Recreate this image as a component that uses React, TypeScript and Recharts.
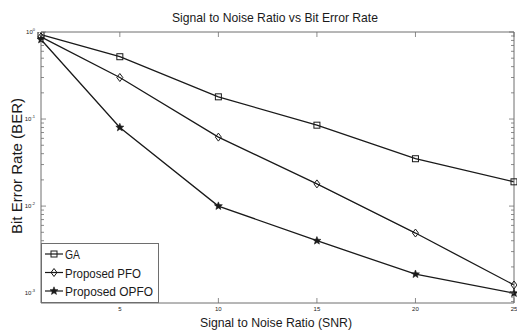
import React from 'react';
import { LineChart, Line, XAxis, YAxis } from 'recharts';

// SNR values and BER per method
const snr = [1, 5, 10, 15, 20, 25];
const gaBer = [0.93, 0.52, 0.18, 0.085, 0.035, 0.019];
const pfoBer = [0.88, 0.3, 0.062, 0.018, 0.0049, 0.00124];
const opfoBer = [0.82, 0.08, 0.01, 0.004, 0.00165, 0.001];

const xTicks = [5, 10, 15, 20, 25];
const decades = [1, 0.1, 0.01, 0.001];
const minorTicks = [0.2, 0.3, 0.4, 0.5, 0.6, 0.7, 0.8, 0.9, 0.02, 0.03, 0.04, 0.05, 0.06, 0.07, 0.08, 0.09, 0.002, 0.003, 0.004, 0.005, 0.006, 0.007, 0.008, 0.009, 0.0008, 0.0009];

const data = snr.map((s, i) => ({ snr: s, ga: gaBer[i], pfo: pfoBer[i], opfo: opfoBer[i] }));

const W = 517;
const H = 331;
const LEFT = 41;
const RIGHT = 514;
const TOP = 32;
const BOTTOM = 303;
const INK = '#1a1a1a';
const FRAME = '#6e6e6e';
const FONT = '"Liberation Sans", Arial, sans-serif';

const Square = ({ cx, cy }: any) => (
  <rect x={cx - 3} y={cy - 3} width={6} height={6} fill="none" stroke={INK} strokeWidth={1} />
);
const Diamond = ({ cx, cy }: any) => (
  <path d={`M${cx},${cy - 4} L${cx + 3},${cy} L${cx},${cy + 4} L${cx - 3},${cy} Z`} fill="none" stroke={INK} strokeWidth={1} />
);
const Star = ({ cx, cy }: any) => {
  const pts: string[] = [];
  for (let k = 0; k < 10; k++) {
    const r = k % 2 === 0 ? 4.2 : 1.8;
    const a = -Math.PI / 2 + (k * Math.PI) / 5;
    pts.push(`${cx + r * Math.cos(a)},${cy + r * Math.sin(a)}`);
  }
  return <polygon points={pts.join(' ')} fill={INK} stroke={INK} strokeWidth={0.6} />;
};

const dotOf = (Shape: any, name: string) => (p: any) => (
  <g key={`${name}-${p.index}`}><Shape cx={p.cx} cy={p.cy} /></g>
);

const isDecade = (v: number) => decades.some(d => Math.abs(d - v) < 1e-9);

const LeftTick = ({ y, payload }: any) => {
  const major = isDecade(payload.value);
  const exp = Math.round(Math.log10(payload.value));
  return (
    <g>
      <line x1={LEFT} x2={LEFT + (major ? 5 : 3)} y1={y} y2={y} stroke={FRAME} strokeWidth={0.8} />
      {major && (
        <text x={LEFT - 6} y={y + 2} textAnchor="end" fontSize={6} fill={INK} fontFamily={FONT}>
          10<tspan dy={-3} fontSize={4}>{exp}</tspan>
        </text>
      )}
    </g>
  );
};

const RightTick = ({ y, payload }: any) => {
  const major = isDecade(payload.value);
  return <line x1={RIGHT} x2={RIGHT - (major ? 5 : 3)} y1={y} y2={y} stroke={FRAME} strokeWidth={0.8} />;
};

const BottomTick = ({ x, payload }: any) => (
  <g>
    <line x1={x} x2={x} y1={BOTTOM} y2={BOTTOM - 5} stroke={FRAME} strokeWidth={0.8} />
    <text x={x} y={BOTTOM + 8} textAnchor="middle" fontSize={6} fill={INK} fontFamily={FONT}>{payload.value}</text>
  </g>
);

const TopTick = ({ x }: any) => (
  <line x1={x} x2={x} y1={TOP} y2={TOP + 5} stroke={FRAME} strokeWidth={0.8} />
);

const legendItems = [
  { label: 'GA', Shape: Square, len: 15 },
  { label: 'Proposed PFO', Shape: Diamond, len: 76 },
  { label: 'Proposed OPFO', Shape: Star, len: 88 },
];

// legend drawn as a small svg box in the lower-left corner of the plot
const LegendBox = () => (
  <svg style={{ position: 'absolute', left: LEFT, top: 243, overflow: 'visible' }} width={150} height={70}>
    <rect x={0.5} y={0.5} width={117} height={59} fill="#fff" stroke={FRAME} strokeWidth={1} />
    {legendItems.map((it, i) => {
      const cy = 11 + i * 18.5;
      return (
        <g key={it.label}>
          <line x1={4} x2={22} y1={cy} y2={cy} stroke={INK} strokeWidth={1.2} />
          <it.Shape cx={13} cy={cy} />
          <text x={24} y={cy + 5} fontSize={13} fill={INK} fontFamily={FONT} textLength={it.len} lengthAdjust="spacingAndGlyphs">
            {it.label}
          </text>
        </g>
      );
    })}
  </svg>
);

export default function App() {
  return (
    <div style={{ position: 'absolute', left: 0, top: 0, width: W, height: H, background: '#fff' }}>
      <LineChart width={W} height={H} data={data} margin={{ top: 0, right: 0, left: 0, bottom: 0 }}>
        <XAxis xAxisId="b" dataKey="snr" type="number" domain={[1, 25]} ticks={xTicks} height={H - BOTTOM}
          axisLine={{ stroke: FRAME }} tickLine={false} tick={<BottomTick />} interval={0} />
        <XAxis xAxisId="t" orientation="top" dataKey="snr" type="number" domain={[1, 25]} ticks={xTicks} height={TOP}
          axisLine={{ stroke: FRAME }} tickLine={false} tick={<TopTick />} interval={0} />
        <YAxis yAxisId="l" scale="log" type="number" domain={[0.00077, 1]} allowDataOverflow ticks={[...decades, ...minorTicks]}
          width={LEFT} axisLine={{ stroke: FRAME }} tickLine={false} tick={<LeftTick />} interval={0} />
        <YAxis yAxisId="r" orientation="right" scale="log" type="number" domain={[0.00077, 1]} allowDataOverflow ticks={[...decades, ...minorTicks]}
          width={W - RIGHT} axisLine={{ stroke: FRAME }} tickLine={false} tick={<RightTick />} interval={0} />
        <Line xAxisId="b" yAxisId="l" dataKey="ga" stroke={INK} strokeWidth={1.3} dot={dotOf(Square, 'ga')} isAnimationActive={false} />
        <Line xAxisId="b" yAxisId="l" dataKey="pfo" stroke={INK} strokeWidth={1.3} dot={dotOf(Diamond, 'pfo')} isAnimationActive={false} />
        <Line xAxisId="b" yAxisId="l" dataKey="opfo" stroke={INK} strokeWidth={1.3} dot={dotOf(Star, 'opfo')} isAnimationActive={false} />
        <text x={275} y={22} textAnchor="middle" fontSize={13.5} fill={INK} fontFamily={FONT} textLength={206} lengthAdjust="spacingAndGlyphs">
          Signal to Noise Ratio vs Bit Error Rate
        </text>
        <text x={276} y={327} textAnchor="middle" fontSize={13} fill={INK} fontFamily={FONT} textLength={152} lengthAdjust="spacingAndGlyphs">
          Signal to Noise Ratio (SNR)
        </text>
        <text x={0} y={0} transform="translate(22,166) rotate(-90)" textAnchor="middle" fontSize={14} fill={INK} fontFamily={FONT} textLength={136} lengthAdjust="spacingAndGlyphs">
          Bit Error Rate (BER)
        </text>
      </LineChart>
      <LegendBox />
    </div>
  );
}
